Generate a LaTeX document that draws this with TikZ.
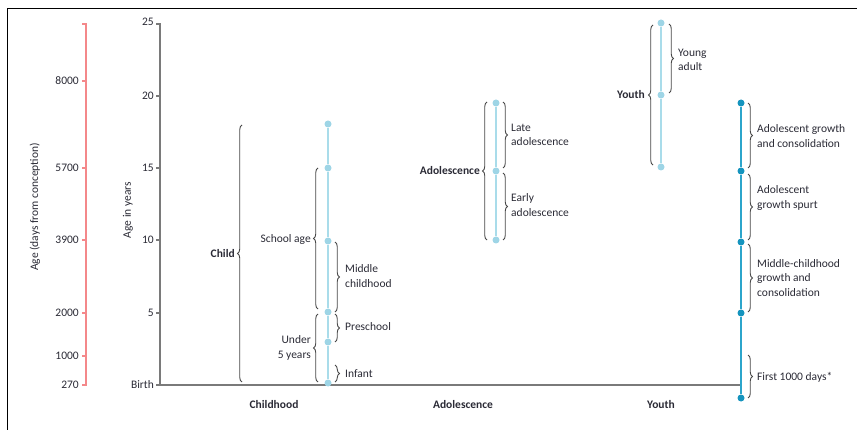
\documentclass[tikz,border=0pt]{standalone}
\usepackage{fontspec}
\setmainfont{Carlito}
\usetikzlibrary{decorations.pathreplacing}
\definecolor{redaxis}{HTML}{F4888A}
\definecolor{grayaxis}{HTML}{7A7A7A}
\definecolor{txt}{HTML}{2A2A35}
\definecolor{lightdot}{HTML}{9ED5E6}
\definecolor{lightline}{HTML}{A9DCEA}
\definecolor{darkdot}{HTML}{1594BE}
\definecolor{darkline}{HTML}{2CA5CB}
\definecolor{bracecol}{HTML}{474747}
\tikzset{
  frameline/.style={draw=black, line width=1pt},
  daxis/.style={draw=redaxis, line width=1.3pt},
  yaxis/.style={draw=grayaxis, line width=1.4pt},
  lbl/.style={font=\fontsize{11.5}{14.5}\selectfont, text=txt, inner sep=0pt},
  blbl/.style={lbl, font=\fontsize{11.5}{14.5}\selectfont\bfseries},
  ldot/.style={circle, fill=lightdot, inner sep=0pt, minimum size=7pt},
  ddot/.style={circle, fill=darkdot, inner sep=0pt, minimum size=7pt},
  lseg/.style={draw=lightline, line width=1.3pt},
  dseg/.style={draw=darkline, line width=2pt},
  brc/.style={decorate, decoration={brace, amplitude=4.5pt}, draw=bracecol, line width=0.9pt},
}
\begin{document}
\begin{tikzpicture}[x=1pt,y=-1pt]
\useasboundingbox (0,0) rectangle (857,430);
% frame
\coordinate (fTL) at (7,9);
\coordinate (fTR) at (857,9);
\coordinate (fBL) at (7,430);
\draw[frameline] (fBL) -- (fTL) -- (fTR);

% days axis
\coordinate (dTop) at (86,24);
\coordinate (dBot) at (86,385);
\draw[daxis] (82,24) -- (dTop) -- (dBot) -- (82,385);
\foreach \yy/\nm in {81/8000,168/5700,240/3900,313/2000,356/1000}{
  \draw[daxis] (82,\yy) -- (86,\yy);
}
\node[lbl, anchor=east] (d8000) at (79,81) {8000};
\node[lbl, anchor=east] (d5700) at (79,168) {5700};
\node[lbl, anchor=east] (d3900) at (79,240) {3900};
\node[lbl, anchor=east] (d2000) at (79,313) {2000};
\node[lbl, anchor=east] (d1000) at (79,356) {1000};
\node[lbl, anchor=east] (d270) at (79,385) {270};
\node[lbl, rotate=90] (dayslabel) at (35,207) {Age (days from conception)};

% years axis
\coordinate (yTop) at (160,24);
\coordinate (yBot) at (160,385);
\coordinate (yEnd) at (741,385);
\draw[yaxis] (156,24) -- (yTop) -- (yBot) -- (yEnd);
\foreach \yy in {96,168,240,313,385}{
  \draw[yaxis] (156,\yy) -- (160,\yy);
}
\node[lbl, anchor=east] (y25) at (154,22) {25};
\node[lbl, anchor=east] (y20) at (154,96) {20};
\node[lbl, anchor=east] (y15) at (154,168) {15};
\node[lbl, anchor=east] (y10) at (154,240) {10};
\node[lbl, anchor=east] (y5) at (154,313) {5};
\node[lbl, anchor=east] (yBirth) at (154,385) {Birth};
\node[lbl, rotate=90] (yearslabel) at (128,210) {Age in years};

% childhood column
\node[ldot] (c18) at (328,124) {};
\node[ldot] (c15) at (328,168) {};
\node[ldot] (c10) at (328,241) {};
\node[ldot] (c5) at (328,312) {};
\node[ldot] (c3) at (328,342) {};
\node[ldot] (c0) at (328,383) {};
\draw[lseg] (c18) -- (c15) -- (c10) -- (c5) -- (c3) -- (c0);

\draw[brc] (242,382) -- (242,125);
\node[blbl, anchor=east] (child) at (235,254) {Child};
\draw[brc] (318,309) -- (318,168);
\node[lbl, anchor=east] (school) at (311,239) {School age};
\draw[brc] (318,382) -- (318,314);
\node[lbl, anchor=east, align=right] (under5) at (311,348) {Under\\5 years};
\draw[brc] (335,242) -- (335,312);
\node[lbl, anchor=west, align=left] (midchild) at (345,276) {Middle\\childhood};
\draw[brc] (335,314) -- (335,342);
\node[lbl, anchor=west] (presch) at (345,327) {Preschool};
\draw[brc] (335,365) -- (335,382);
\node[lbl, anchor=west] (infant) at (345,374) {Infant};

% adolescence column
\node[ldot] (a19) at (496,103) {};
\node[ldot] (a14) at (496,171) {};
\node[ldot] (a10) at (496,240) {};
\draw[lseg] (a19) -- (a14) -- (a10);
\draw[brc] (487,240) -- (487,102);
\node[blbl, anchor=east] (adol) at (480,171) {Adolescence};
\draw[brc] (503,102) -- (503,168);
\node[lbl, anchor=west, align=left] (late) at (511,135) {Late\\adolescence};
\draw[brc] (503,173) -- (503,240);
\node[lbl, anchor=west, align=left] (early) at (511,205) {Early\\adolescence};

% youth column
\node[ldot] (u25) at (661,23) {};
\node[ldot] (u20) at (661,95) {};
\node[ldot] (u15) at (661,167) {};
\draw[lseg] (u25) -- (u20) -- (u15);
\draw[brc] (653,165) -- (653,25);
\node[blbl, anchor=east] (youth) at (645,95) {Youth};
\draw[brc] (669,24) -- (669,93);
\node[lbl, anchor=west, align=left] (young) at (678,60) {Young\\adult};

% growth column
\node[ddot] (g1) at (741,103) {};
\node[ddot] (g2) at (741,171) {};
\node[ddot] (g3) at (741,242) {};
\node[ddot] (g4) at (741,313) {};
\node[ddot] (g5) at (741,398) {};
\draw[dseg] (g1) -- (g2) -- (g3) -- (g4) -- (g5);
\draw[brc] (748,103) -- (748,168);
\node[lbl, anchor=west, align=left] (agc) at (757,136) {Adolescent growth\\and consolidation};
\draw[brc] (748,174) -- (748,240);
\node[lbl, anchor=west, align=left] (ags) at (757,198) {Adolescent\\growth spurt};
\draw[brc] (748,244) -- (748,312);
\node[lbl, anchor=west, align=left] (mcg) at (757,278) {Middle-childhood\\growth and\\consolidation};
\draw[brc] (748,355) -- (748,398);
\node[lbl, anchor=west] (first) at (757,377) {First 1000 days*};

% bottom labels
\node[blbl] (childhood) at (274,405) {Childhood};
\node[blbl] (adolescence) at (463,405) {Adolescence};
\node[blbl] (youthb) at (661,405) {Youth};
\end{tikzpicture}
\end{document}
